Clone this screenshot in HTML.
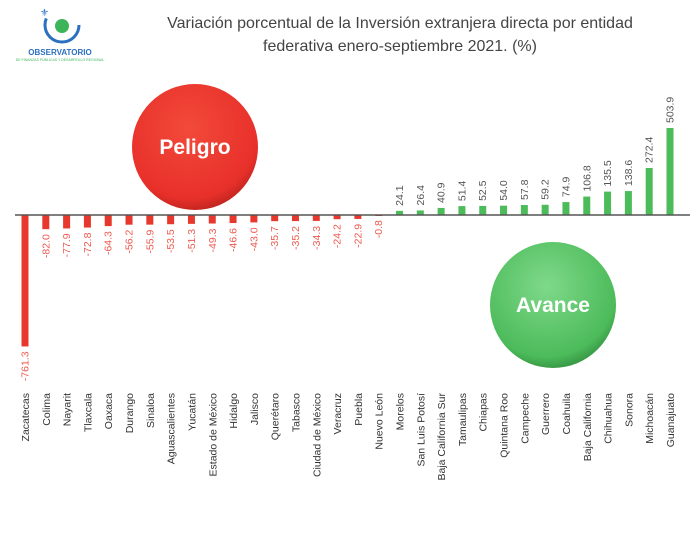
<!DOCTYPE html>
<html><head><meta charset="utf-8"><style>
body{margin:0;background:#fff;}
svg{display:block;font-family:"Liberation Sans",sans-serif;}
</style></head><body>
<svg id="chart" width="694" height="534" viewBox="0 0 694 534">
<defs>
<radialGradient id="rg" cx="45%" cy="35%" r="70%"><stop offset="0" stop-color="#f24a3a"/><stop offset="0.8" stop-color="#e8302a"/><stop offset="1" stop-color="#b3201b"/></radialGradient>
<radialGradient id="gg" cx="45%" cy="35%" r="70%"><stop offset="0" stop-color="#7fd98a"/><stop offset="0.8" stop-color="#4cbb5a"/><stop offset="1" stop-color="#2f8a3c"/></radialGradient>
</defs>
<g>
<circle cx="62" cy="25" r="17" fill="none" stroke="#2a6fc0" stroke-width="3" stroke-dasharray="60 50"/>
<circle cx="62" cy="26" r="7" fill="#3cb55a"/>
<text x="40" y="16" font-size="10" fill="#2a6fc0">⚜</text>
<text x="60" y="55" font-size="8" font-weight="bold" fill="#2a6fc0" text-anchor="middle">OBSERVATORIO</text>
<text x="60" y="61" font-size="3.5" fill="#3cb55a" text-anchor="middle">DE FINANZAS PÚBLICAS Y DESARROLLO REGIONAL</text>
</g>
<text x="400" y="28" font-size="16" fill="#444" text-anchor="middle">Variación porcentual de la Inversión extranjera  directa por entidad</text>
<text x="400" y="51" font-size="16" fill="#444" text-anchor="middle">federativa enero-septiembre 2021. (%)</text>
<g id="bars"></g>
<line x1="15" y1="215" x2="690" y2="215" stroke="#555" stroke-width="1.5"/>
<g>
<circle cx="195" cy="147" r="63" fill="url(#rg)"/>
<text x="195" y="154" font-size="21" font-weight="bold" fill="#fff" text-anchor="middle">Peligro</text>
</g>
<g>
<circle cx="553" cy="305" r="63" fill="url(#gg)"/>
<text x="553" y="312" font-size="21" font-weight="bold" fill="#fff" text-anchor="middle">Avance</text>
</g>
</svg>
<script>
const categories=["Zacatecas","Colima","Nayarit","Tlaxcala","Oaxaca","Durango","Sinaloa","Aguascalientes","Yucatán","Estado de México","Hidalgo","Jalisco","Querétaro","Tabasco","Ciudad de México","Veracruz","Puebla","Nuevo León","Morelos","San Luis Potosí","Baja California Sur","Tamaulipas","Chiapas","Quintana Roo","Campeche","Guerrero","Coahuila","Baja California","Chihuahua","Sonora","Michoacán","Guanajuato"];
const values=[-761.3,-82.0,-77.9,-72.8,-64.3,-56.2,-55.9,-53.5,-51.3,-49.3,-46.6,-43.0,-35.7,-35.2,-34.3,-24.2,-22.9,-0.8,24.1,26.4,40.9,51.4,52.5,54.0,57.8,59.2,74.9,106.8,135.5,138.6,272.4,503.9];
const labels=["-761.3","-82.0","-77.9","-72.8","-64.3","-56.2","-55.9","-53.5","-51.3","-49.3","-46.6","-43.0","-35.7","-35.2","-34.3","-24.2","-22.9","-0.8","24.1","26.4","40.9","51.4","52.5","54.0","57.8","59.2","74.9","106.8","135.5","138.6","272.4","503.9"];
const NS="http://www.w3.org/2000/svg";
const g=document.getElementById("bars");
const y0=215, k=87/503.9;
function xPos(i){return 25+i*(645/(categories.length-1));}
function yPos(v){return y0-v*k;}
categories.forEach((c,i)=>{
  const v=values[i],x=xPos(i),y=yPos(v),neg=v<0;
  const r=document.createElementNS(NS,"rect");
  r.setAttribute("x",x-3.5);r.setAttribute("width",7);
  r.setAttribute("y",Math.min(y,y0));r.setAttribute("height",Math.max(Math.abs(y-y0),1));
  r.setAttribute("fill",neg?"#e8372d":"#4cbb5a");
  
  
  g.appendChild(r);
  const t=document.createElementNS(NS,"text");
  const ly=neg?y+5:y-5;
  t.setAttribute("transform","translate("+(x+3.5)+","+ly+") rotate(-90)");
  t.setAttribute("text-anchor",neg?"end":"start");
  t.setAttribute("font-size","10.5");
  t.setAttribute("fill",neg?"#ee5a50":"#555");
  t.textContent=labels[i];
  
  
  g.appendChild(t);
  const cl=document.createElementNS(NS,"text");
  cl.setAttribute("transform","translate("+(x+4)+",393) rotate(-90)");
  cl.setAttribute("text-anchor","end");
  cl.setAttribute("font-size","10.5");
  cl.setAttribute("fill","#333");
  cl.textContent=c;
  
  
  g.appendChild(cl);
});
</script>
</body></html>
